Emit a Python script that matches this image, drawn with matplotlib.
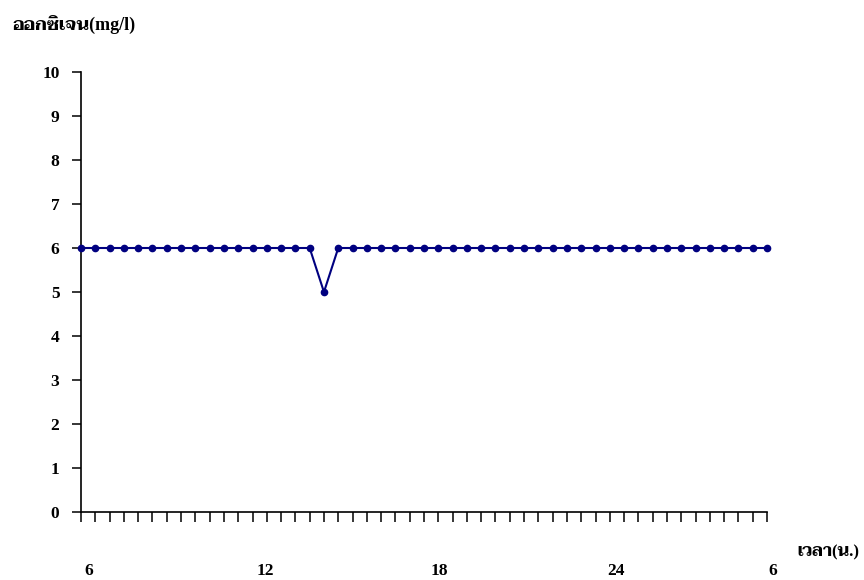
import numpy as np
import matplotlib
matplotlib.use("Agg")
import matplotlib.pyplot as plt

# ข้อมูล: ค่าออกซิเจนทุกครึ่งชั่วโมง ตั้งแต่ 6 น. ถึง 6 น. วันถัดไป
oxygen = [6, 6, 6, 6, 6, 6, 6, 6, 6, 6, 6, 6, 6, 6, 6, 6, 6, 5,
          6, 6, 6, 6, 6, 6, 6, 6, 6, 6, 6, 6, 6, 6, 6, 6, 6, 6,
          6, 6, 6, 6, 6, 6, 6, 6, 6, 6, 6, 6, 6]
hour_labels = ["6", "12", "18", "24", "6"]
hour_label_pos = [0.55, 12.9, 25.1, 37.4, 48.4]
y_ticks = [0, 1, 2, 3, 4, 5, 6, 7, 8, 9, 10]

fonts = ['Liberation Serif', 'Taviraj', 'DejaVu Sans']
plt.rcParams['font.family'] = fonts
plt.rcParams['font.weight'] = 'bold'

x = np.arange(len(oxygen))

fig = plt.figure(figsize=(8.64, 5.8), dpi=100)
ax = fig.add_axes([81/864, 1-512/580, (767-81)/864, (512-72)/580])

ax.plot(x, oxygen, color='#000080', lw=1.5, marker='o', ms=4.5, clip_on=False, zorder=3)

ax.set_xlim(0, len(oxygen)-1)
ax.set_ylim(0, 10)
ax.set_yticks(y_ticks)
ax.set_yticklabels([str(v) for v in y_ticks], fontsize=12.5, fontweight='bold')
ax.set_xticks(x)
ax.set_xticklabels([])

for s in ['top', 'right']:
    ax.spines[s].set_visible(False)
for s in ['left', 'bottom']:
    ax.spines[s].set_linewidth(1.2)
ax.tick_params(axis='y', length=6.5, width=1.1, pad=9)
ax.tick_params(axis='x', length=7, width=1.1)

# ป้ายเวลาแกน x
for p, lab in zip(hour_label_pos, hour_labels):
    ax.text(p, -0.135, lab, transform=ax.get_xaxis_transform(), ha='center', va='center',
            fontsize=12.5, fontweight='bold', clip_on=False)

fig.text(12/864, 1-24/580, "ออกซิเจน(mg/l)", ha='left', va='center', fontsize=13, fontweight='bold')
fig.text(797/864, 1-552/580, "เวลา(น.)", ha='left', va='center', fontsize=12, fontweight='bold')

fig.savefig("out.png", dpi=100)
